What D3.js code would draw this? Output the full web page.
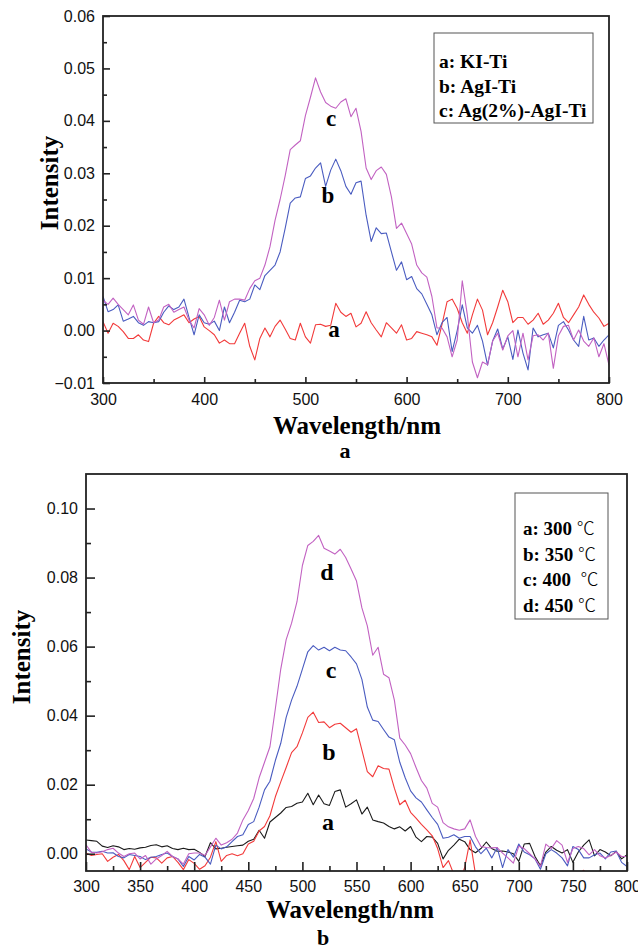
<!DOCTYPE html>
<html>
<head>
<meta charset="utf-8">
<script src="https://cdn.jsdelivr.net/npm/d3@7"></script>
<style>
  html, body { margin: 0; padding: 0; background: #fff; }
  svg { display: block; }
  .tick-label { font-family: "Liberation Sans", Arial, sans-serif; fill: #111; }
  .serif { font-family: "Liberation Serif", "Times New Roman", serif; font-weight: bold; fill: #000; }
</style>
</head>
<body>
<svg id="chart" width="638" height="949"></svg>
<script>
// ---------------- DATA ----------------
const wavelengths = d3.range(300, 805, 5); // 300..800 nm, 5 nm step

// Chart a
const topXTicks = [300, 400, 500, 600, 700, 800];
const topYTicks = [-0.01, 0.00, 0.01, 0.02, 0.03, 0.04, 0.05, 0.06];
const topLegend = ["a: KI-Ti", "b: AgI-Ti", "c: Ag(2%)-AgI-Ti"];

const topA_KITi = [
  0.0017,-0.0005,0.0014,0.0008,-0.0002,-0.0015,-0.0015,-0.0008,-0.0018,-0.0021,
  0.0014,0.0027,0.0015,0.0011,0.0020,0.0025,0.0030,0.0015,0.0022,0.0027,
  0.0007,0.0000,-0.0008,-0.0024,-0.0018,-0.0025,-0.0025,-0.0005,0.0014,-0.0030,
  -0.0056,-0.0015,0.0005,-0.0012,0.0008,0.0020,0.0003,-0.0015,-0.0018,0.0014,
  -0.0012,-0.0024,0.0011,0.0012,0.0008,0.0010,0.0052,0.0035,0.0027,0.0033,
  0.0007,0.0014,0.0036,0.0015,0.0001,-0.0012,0.0015,0.0005,-0.0005,0.0011,
  -0.0018,-0.0015,-0.0002,-0.0005,-0.0008,-0.0012,-0.0028,0.0012,0.0055,0.0060,
  0.0042,0.0015,-0.0005,0.0030,0.0060,0.0039,-0.0008,0.0015,0.0045,0.0077,
  0.0055,0.0015,0.0025,0.0025,0.0012,0.0020,0.0033,0.0012,0.0020,0.0033,
  0.0052,0.0025,0.0015,0.0030,0.0045,0.0068,0.0050,0.0035,0.0024,0.0008,
  0.0014
];
const topB_AgITi = [
  0.0065,0.0036,0.0040,0.0049,0.0018,0.0022,0.0027,0.0015,0.0010,0.0017,
  0.0015,0.0017,0.0035,0.0047,0.0040,0.0045,0.0060,0.0025,-0.0008,0.0030,
  0.0015,0.0012,0.0018,0.0000,0.0045,0.0015,0.0035,0.0058,0.0055,0.0060,
  0.0087,0.0078,0.0105,0.0115,0.0125,0.0150,0.0195,0.0243,0.0253,0.0255,
  0.0290,0.0295,0.0310,0.0320,0.0275,0.0306,0.0327,0.0305,0.0275,0.0260,
  0.0282,0.0285,0.0220,0.0170,0.0196,0.0185,0.0186,0.0150,0.0115,0.0131,
  0.0097,0.0103,0.0080,0.0070,0.0050,0.0030,-0.0008,0.0015,0.0025,-0.0040,
  0.0000,0.0049,0.0005,-0.0005,0.0010,-0.0020,-0.0066,-0.0020,0.0003,-0.0035,
  -0.0012,-0.0055,0.0001,-0.0043,-0.0075,0.0005,-0.0012,-0.0008,-0.0005,-0.0033,
  0.0010,0.0017,0.0001,-0.0018,-0.0030,0.0027,-0.0018,-0.0014,-0.0030,-0.0018,
  -0.0008
];
const topC_AgAgITi = [
  0.0058,0.0050,0.0062,0.0050,0.0040,0.0030,0.0049,0.0020,0.0012,0.0045,
  0.0015,0.0020,0.0045,0.0050,0.0035,0.0040,0.0045,0.0020,0.0005,0.0042,
  0.0030,0.0010,0.0025,0.0058,0.0020,0.0055,0.0060,0.0060,0.0058,0.0080,
  0.0095,0.0100,0.0125,0.0160,0.0210,0.0250,0.0295,0.0345,0.0354,0.0362,
  0.0410,0.0445,0.0482,0.0455,0.0435,0.0428,0.0424,0.0436,0.0442,0.0408,
  0.0424,0.0380,0.0310,0.0288,0.0305,0.0312,0.0298,0.0255,0.0195,0.0205,
  0.0185,0.0165,0.0125,0.0110,0.0102,0.0065,0.0005,0.0005,-0.0012,-0.0050,
  -0.0018,0.0095,0.0030,-0.0060,-0.0090,-0.0060,-0.0065,-0.0020,-0.0005,-0.0037,
  -0.0010,0.0000,-0.0050,-0.0005,-0.0056,-0.0010,-0.0008,-0.0018,-0.0005,-0.0072,
  -0.0010,0.0008,0.0010,-0.0018,0.0001,-0.0020,-0.0030,-0.0014,-0.0050,-0.0025,
  -0.0066
];

// Chart b
const botXTicks = [300, 350, 400, 450, 500, 550, 600, 650, 700, 750, 800];
const botYTicks = [0.00, 0.02, 0.04, 0.06, 0.08, 0.10];
const botLegend = [["a: 300 ", "℃"], ["b: 350 ", "℃"], ["c: 400  ", "℃"], ["d: 450 ", "℃"]];

const botA_300 = [
  0.0040,0.0038,0.0036,0.0022,0.0018,0.0023,0.0020,0.0012,0.0015,0.0013,
  0.0017,0.0019,0.0024,0.0026,0.0020,0.0023,0.0015,0.0012,0.0016,0.0012,
  0.0013,0.0004,-0.0008,0.0032,0.0014,0.0016,0.0019,0.0021,0.0023,0.0025,
  0.0036,0.0042,0.0068,0.0045,0.0092,0.0105,0.0118,0.0134,0.0137,0.0146,
  0.0150,0.0175,0.0142,0.0170,0.0145,0.0140,0.0180,0.0185,0.0135,0.0145,
  0.0156,0.0115,0.0135,0.0098,0.0093,0.0089,0.0079,0.0072,0.0078,0.0066,
  0.0079,0.0048,0.0035,0.0050,0.0048,0.0030,-0.0015,0.0010,0.0025,0.0042,
  0.0035,0.0012,0.0003,0.0015,0.0034,0.0015,0.0007,0.0008,0.0005,0.0000,
  -0.0022,0.0028,0.0030,-0.0008,-0.0035,0.0005,0.0021,0.0010,0.0002,0.0012,
  -0.0025,0.0005,0.0025,0.0040,-0.0006,0.0012,0.0005,-0.0006,0.0007,-0.0015,
  -0.0003
];
const botB_350 = [
  0.0002,-0.0005,-0.0002,0.0000,-0.0022,-0.0010,-0.0002,-0.0020,-0.0046,-0.0008,
  -0.0040,-0.0025,-0.0010,-0.0012,-0.0027,-0.0012,-0.0008,-0.0025,-0.0046,-0.0017,
  -0.0028,-0.0045,-0.0035,-0.0010,0.0035,-0.0022,-0.0005,0.0000,-0.0006,0.0000,
  0.0028,0.0036,0.0066,0.0079,0.0110,0.0165,0.0208,0.0250,0.0293,0.0310,
  0.0350,0.0395,0.0410,0.0380,0.0382,0.0365,0.0375,0.0378,0.0365,0.0352,
  0.0362,0.0300,0.0238,0.0223,0.0255,0.0247,0.0245,0.0190,0.0142,0.0155,
  0.0120,0.0103,0.0085,0.0069,0.0052,0.0015,-0.0040,-0.0020,-0.0060,-0.0080,
  -0.0040,0.0040,-0.0060,-0.0080,-0.0070,-0.0090,-0.0075,-0.0085,-0.0070,-0.0080,
  -0.0090,-0.0075,-0.0068,-0.0085,-0.0072,-0.0080,-0.0070,-0.0078,-0.0065,-0.0072,
  -0.0068,-0.0060,-0.0048,-0.0065,-0.0070,-0.0049,-0.0062,-0.0070,-0.0066,-0.0075,
  -0.0070
];
const botC_400 = [
  0.0014,0.0005,0.0004,0.0007,0.0002,0.0003,-0.0008,-0.0012,-0.0002,-0.0005,
  -0.0008,-0.0017,-0.0010,-0.0008,-0.0002,0.0002,-0.0008,-0.0015,-0.0037,-0.0008,
  -0.0018,-0.0002,-0.0010,-0.0030,0.0025,0.0014,0.0020,0.0035,0.0050,0.0055,
  0.0085,0.0093,0.0135,0.0185,0.0210,0.0270,0.0320,0.0395,0.0445,0.0485,
  0.0535,0.0585,0.0603,0.0590,0.0598,0.0588,0.0598,0.0590,0.0588,0.0570,
  0.0550,0.0505,0.0425,0.0387,0.0383,0.0360,0.0338,0.0330,0.0265,0.0220,
  0.0182,0.0162,0.0150,0.0127,0.0105,0.0085,0.0045,0.0048,0.0055,0.0045,
  0.0050,0.0050,0.0020,0.0000,0.0016,-0.0012,0.0018,-0.0040,0.0012,-0.0010,
  0.0028,0.0005,-0.0003,-0.0015,-0.0045,0.0000,0.0012,0.0002,-0.0012,-0.0035,
  0.0021,0.0012,-0.0012,-0.0012,-0.0003,0.0002,-0.0015,0.0005,0.0008,-0.0025,
  -0.0037
];
const botD_450 = [
  0.0026,0.0004,0.0002,0.0006,0.0012,0.0016,0.0002,-0.0008,0.0000,0.0002,
  -0.0015,-0.0005,-0.0030,-0.0015,-0.0005,0.0007,-0.0008,-0.0015,-0.0030,0.0000,
  0.0002,0.0002,-0.0005,0.0020,0.0045,0.0025,0.0032,0.0042,0.0060,0.0098,
  0.0125,0.0160,0.0220,0.0265,0.0310,0.0420,0.0535,0.0620,0.0668,0.0730,
  0.0835,0.0893,0.0905,0.0922,0.0885,0.0877,0.0868,0.0882,0.0858,0.0825,
  0.0790,0.0712,0.0660,0.0575,0.0598,0.0520,0.0510,0.0445,0.0335,0.0315,
  0.0290,0.0250,0.0212,0.0190,0.0146,0.0135,0.0090,0.0078,0.0072,0.0068,
  0.0072,0.0098,0.0050,0.0021,0.0018,0.0017,0.0018,0.0002,-0.0012,-0.0027,
  0.0022,0.0015,0.0000,-0.0015,-0.0037,0.0028,0.0015,0.0038,0.0025,-0.0025,
  0.0015,0.0021,0.0015,-0.0003,0.0012,-0.0006,-0.0012,-0.0005,0.0005,-0.0008,
  -0.0008
];

// ---------------- DRAW ----------------
const svg = d3.select("#chart");
const RED = "#f23a3a", BLUE = "#4a5cc0", PURPLE = "#c262c2", BLACK = "#1a1a1a";

function drawPanel(cfg) {
  const { left, right, top, bottom } = cfg.box;
  const x = d3.scaleLinear().domain(cfg.xDomain).range([left, right]);
  const y = d3.scaleLinear().domain(cfg.yDomain).range([bottom, top]);
  const g = svg.append("g");

  const clipId = "clip-" + cfg.id;
  svg.append("defs").append("clipPath").attr("id", clipId)
    .append("rect").attr("x", left).attr("y", top)
    .attr("width", right - left).attr("height", bottom - top);

  const line = d3.line().x((d, i) => x(wavelengths[i])).y(d => y(d));
  const lines = g.append("g").attr("clip-path", `url(#${clipId})`);
  cfg.series.forEach(s => {
    lines.append("path").datum(s.values)
      .attr("d", line).attr("fill", "none")
      .attr("stroke", s.color).attr("stroke-width", 1.1)
      .attr("stroke-linejoin", "round");
  });

  // frame
  g.append("rect").attr("x", left).attr("y", top)
    .attr("width", right - left).attr("height", bottom - top)
    .attr("fill", "none").attr("stroke", "#222").attr("stroke-width", 1.8);

  // x axis (ticks inward)
  const xAxis = d3.axisBottom(x).tickValues(cfg.xTicks).tickSize(-cfg.xMajor)
    .tickPadding(cfg.xPad).tickFormat(d3.format("d"));
  const xa = g.append("g").attr("transform", `translate(0,${bottom})`).call(xAxis);
  xa.select(".domain").remove();
  xa.selectAll(".tick line").attr("stroke", "#222").attr("stroke-width", 1.6);
  xa.selectAll(".tick text").attr("class", "tick-label").style("font-size", cfg.fs + "px")
    .attr("fill", "#111");
  const xMinor = d3.axisBottom(x).tickValues(cfg.xMinorTicks).tickSize(-cfg.xMinorLen).tickFormat("");
  const xm = g.append("g").attr("transform", `translate(0,${bottom})`).call(xMinor);
  xm.select(".domain").remove();
  xm.selectAll(".tick line").attr("stroke", "#222").attr("stroke-width", 1.6);

  // y axis (ticks inward)
  const yAxis = d3.axisLeft(y).tickValues(cfg.yTicks).tickSize(-cfg.yMajor)
    .tickPadding(8).tickFormat(d3.format(".2f"));
  const ya = g.append("g").attr("transform", `translate(${left},0)`).call(yAxis);
  ya.select(".domain").remove();
  ya.selectAll(".tick line").attr("stroke", "#222").attr("stroke-width", 1.6);
  ya.selectAll(".tick text").attr("class", "tick-label").style("font-size", cfg.fs + "px")
    .attr("fill", "#111");
  const yMinor = d3.axisLeft(y).tickValues(cfg.yMinorTicks).tickSize(-cfg.yMinorLen).tickFormat("");
  const ym = g.append("g").attr("transform", `translate(${left},0)`).call(yMinor);
  ym.select(".domain").remove();
  ym.selectAll(".tick line").attr("stroke", "#222").attr("stroke-width", 1.6);

  // axis titles
  g.append("text").attr("class", "serif").attr("x", cfg.xTitle[0]).attr("y", cfg.xTitle[1])
    .attr("text-anchor", "middle").style("font-size", "25px").text("Wavelength/nm");
  g.append("text").attr("class", "serif")
    .attr("transform", `translate(${cfg.yTitle[0]},${cfg.yTitle[1]}) rotate(-90)`)
    .attr("text-anchor", "middle").style("font-size", "25px").text("Intensity");
  g.append("text").attr("class", "serif").attr("x", cfg.caption[0]).attr("y", cfg.caption[1])
    .attr("text-anchor", "middle").style("font-size", "22px").text(cfg.captionText);

  // curve labels
  cfg.labels.forEach(l => {
    g.append("text").attr("class", "serif").attr("x", l.x).attr("y", l.y)
      .attr("text-anchor", "middle").style("font-size", cfg.labelFs + "px").text(l.t);
  });

  // legend
  const lb = cfg.legendBox;
  g.append("rect").attr("x", lb.x).attr("y", lb.y).attr("width", lb.w).attr("height", lb.h)
    .attr("fill", "#fff").attr("stroke", "#555").attr("stroke-width", 1);
  cfg.legend.forEach((t, i) => {
    const parts = Array.isArray(t) ? t : [t];
    const txt = g.append("text").attr("class", "serif").attr("x", lb.tx).attr("y", lb.ty + i * lb.dy)
      .style("font-size", lb.fs + "px").style("white-space", "pre").attr("xml:space", "preserve");
    txt.append("tspan").text(parts[0]);
    if (parts[1]) {
      txt.append("tspan").text(parts[1])
        .style("font-family", "'Noto Sans CJK SC', 'DejaVu Sans', sans-serif")
        .style("font-weight", "300").style("font-size", (lb.fs - 1) + "px");
    }
  });
}

drawPanel({
  id: "a",
  box: { left: 103, right: 609, top: 16, bottom: 383 },
  xDomain: [300, 800], yDomain: [-0.01, 0.06],
  xTicks: topXTicks, xMinorTicks: [350, 450, 550, 650, 750],
  yTicks: topYTicks, yMinorTicks: [-0.005, 0.005, 0.015, 0.025, 0.035, 0.045, 0.055],
  xMajor: 6, xMinorLen: 4, yMajor: 7, yMinorLen: 4, fs: 16, xPad: 11,
  series: [
    { values: topA_KITi, color: RED },
    { values: topB_AgITi, color: BLUE },
    { values: topC_AgAgITi, color: PURPLE }
  ],
  xTitle: [357, 434], yTitle: [58, 183], caption: [345, 458], captionText: "a",
  labelFs: 23,
  labels: [ { t: "c", x: 331, y: 126 }, { t: "b", x: 328, y: 203 }, { t: "a", x: 334, y: 337 } ],
  legend: topLegend,
  legendBox: { x: 434, y: 33, w: 159, h: 90, tx: 439, ty: 68, dy: 24.5, fs: 19.5 }
});

drawPanel({
  id: "b",
  box: { left: 86, right: 627, top: 474, bottom: 871 },
  xDomain: [300, 800], yDomain: [-0.005, 0.11],
  xTicks: botXTicks, xMinorTicks: [325, 375, 425, 475, 525, 575, 625, 675, 725, 775],
  yTicks: botYTicks, yMinorTicks: [0.01, 0.03, 0.05, 0.07, 0.09],
  xMajor: 9, xMinorLen: 5, yMajor: 9, yMinorLen: 5, fs: 16, xPad: 10,
  series: [
    { values: botA_300, color: BLACK },
    { values: botB_350, color: RED },
    { values: botC_400, color: BLUE },
    { values: botD_450, color: PURPLE }
  ],
  xTitle: [350, 918], yTitle: [30, 657], caption: [323, 945], captionText: "b",
  labelFs: 24,
  labels: [ { t: "d", x: 327, y: 580 }, { t: "c", x: 331, y: 678 },
            { t: "b", x: 329, y: 760 }, { t: "a", x: 328, y: 830 } ],
  legend: botLegend,
  legendBox: { x: 515, y: 493, w: 93, h: 126, tx: 523, ty: 535, dy: 25.5, fs: 19 }
});
</script>
</body>
</html>
